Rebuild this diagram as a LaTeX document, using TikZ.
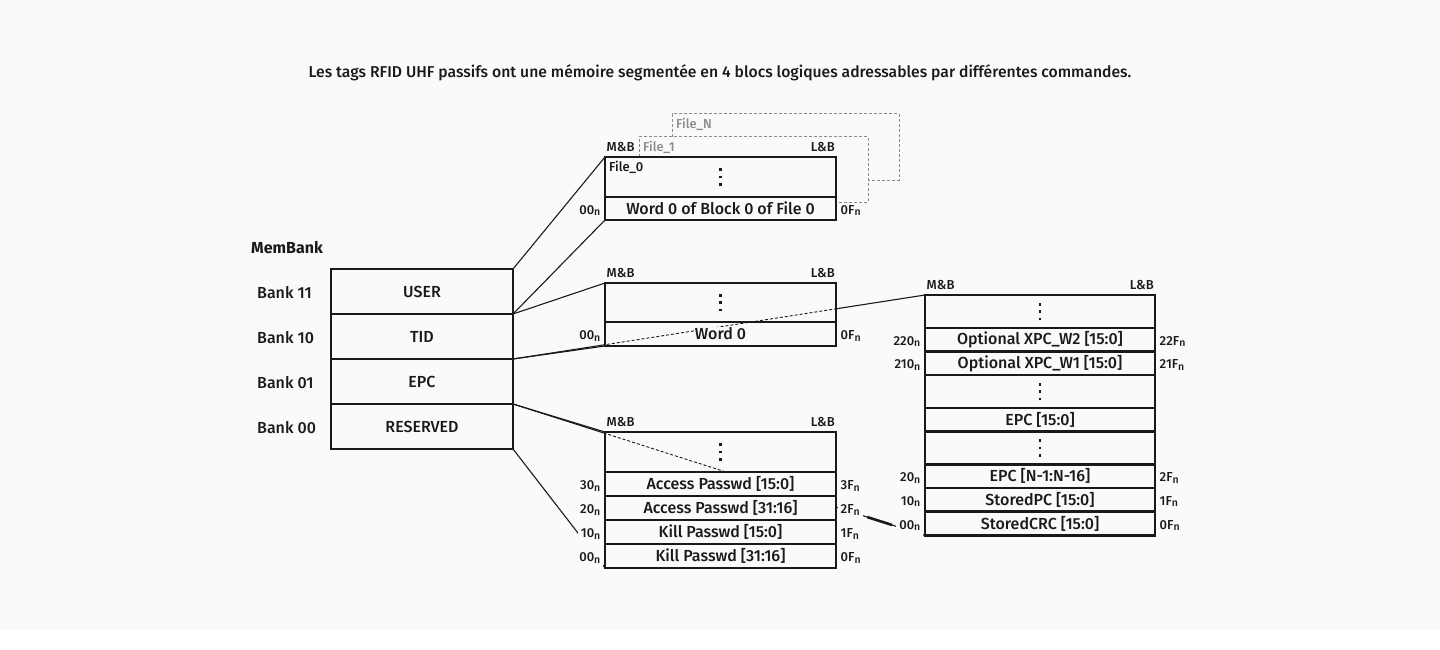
\documentclass[tikz,border=0pt]{standalone}
\usepackage{fontspec}
\setmainfont{Fira Sans}[UprightFont={* Medium},BoldFont={* Bold}]
\usetikzlibrary{positioning,calc}
\definecolor{bg}{HTML}{F9FBFA}
\definecolor{ink}{HTML}{1A1A1A}
\definecolor{filegray}{HTML}{8C8C8C}
\newcommand\nsub{\raisebox{-1.5pt}{\fontsize{10.5}{10.5}\selectfont n}}
\newcommand\cellfont{\fontsize{16}{18}\selectfont}
\newcommand\smallfont{\fontsize{13}{15}\selectfont}
\newcommand\vdotsbig{\vbox{\offinterlineskip\hbox{\rule{2.8pt}{2.8pt}}\kern4.6pt\hbox{\rule{2.8pt}{2.8pt}}\kern4.6pt\hbox{\rule{2.8pt}{2.8pt}}}}
\pgfdeclarelayer{canvas}
\pgfdeclarelayer{wires}
\pgfsetlayers{canvas,wires,main}

\begin{document}
\begin{tikzpicture}[x=1pt,y=-1pt,
	cell/.style={draw=ink,line width=2.8pt,fill=bg,text=ink,inner sep=0pt,outer sep=0pt,minimum width=231pt,font=\cellfont},
	bankcell/.style={cell,minimum width=182pt,minimum height=45pt},
	epccell/.style={cell,minimum width=230pt},
	conn/.style={draw=ink,line width=1.1pt},
	hidden/.style={draw=ink,line width=0.9pt,dash pattern=on 3pt off 2pt},
	filebox/.style={draw=filegray,line width=1pt,dash pattern=on 3pt off 2pt,fill=bg,anchor=north west,inner sep=0pt,outer sep=0pt},
	filelbl/.style={text=filegray,font=\smallfont,anchor=north west,inner sep=4pt},
	addr/.style={text=ink,font=\smallfont,inner xsep=3pt,inner ysep=1pt,yshift=-2pt},
	mask/.style={fill=bg,minimum height=25pt},
	msb/.style={text=ink,font=\smallfont,inner sep=0pt,anchor=south west,xshift=1.5pt,yshift=5pt},
	lsb/.style={text=ink,font=\smallfont,inner sep=0pt,anchor=south east,xshift=-1pt,yshift=5pt},
	banklbl/.style={text=ink,font=\cellfont,anchor=west,inner sep=0pt}]

	\begin{pgfonlayer}{canvas}
		\fill[white] (0,0) rectangle (1440,650);
		\fill[bg] (0,0) rectangle (1440,630);
	\end{pgfonlayer}
	\useasboundingbox (0,0) rectangle (1440,650);

	\node[text=ink,font=\fontsize{15.7}{18}\selectfont] (title) at (720,73) {Les tags RFID UHF passifs ont une mémoire segmentée en 4 blocs logiques adressables par différentes commandes.};

	\node[banklbl,font=\cellfont\bfseries] (membank) at (251,248) {MemBank};
	\node[bankcell] (user) at (422,291.5) {USER};
	\node[bankcell,below=0pt of user] (tid) {TID};
	\node[bankcell,below=0pt of tid] (epc) {EPC};
	\node[bankcell,below=0pt of epc] (res) {RESERVED};
	\node[banklbl] (b11) at (257,292.5) {Bank 11};
	\node[banklbl] (b10) at (257,337.5) {Bank 10};
	\node[banklbl] (b01) at (257,382.5) {Bank 01};
	\node[banklbl] (b00) at (257,427.5) {Bank 00};

	\node[filebox,minimum width=227pt,minimum height=66pt] (fileN) at (672,114) {};
	\node[filelbl] at (fileN.north west) {File\_N};
	\node[filebox,minimum width=229pt,minimum height=65pt] (file1) at (639,137) {};
	\node[filelbl] at (file1.north west) {File\_1};

	\node[cell,minimum height=40pt] (udots) at (720.5,177) {\vdotsbig};
	\node[cell,minimum height=23pt,below=0pt of udots] (uword) {Word 0 of Block 0 of File 0};
	\node[text=ink,font=\smallfont,anchor=north west,inner sep=4pt] (file0) at (udots.north west) {File\_0};
	\node[msb] at (udots.north west) {M\&B};
	\node[lsb] at (udots.north east) {L\&B};
	\node[addr,left=1.5pt of uword] {00\nsub};
	\node[addr,right=1.5pt of uword] {0F\nsub};

	\node[cell,minimum height=39pt] (tdots) at (720.5,302.5) {\vdotsbig};
	\node[cell,minimum height=24pt,below=0pt of tdots] (tword) {};
	\node[msb] at (tdots.north west) {M\&B};
	\node[lsb] at (tdots.north east) {L\&B};
	\node[addr,left=1.5pt of tword] {00\nsub};
	\node[addr,right=1.5pt of tword] {0F\nsub};

	\node[cell,minimum height=40pt] (rdots) at (720.5,452) {\vdotsbig};
	\node[cell,minimum height=24pt,below=0pt of rdots] (ra1) {Access Passwd [15:0]};
	\node[cell,minimum height=24pt,below=0pt of ra1] (ra2) {Access Passwd [31:16]};
	\node[cell,minimum height=24pt,below=0pt of ra2] (rk1) {Kill Passwd [15:0]};
	\node[cell,minimum height=24pt,below=0pt of rk1] (rk2) {Kill Passwd [31:16]};
	\node[msb] at (rdots.north west) {M\&B};
	\node[lsb] at (rdots.north east) {L\&B};

	\node[epccell,minimum height=33pt] (edots1) at (1040,311.5) {\vdotsbig};
	\node[epccell,minimum height=23.5pt,below=0pt of edots1] (ex2) {Optional XPC\_W2 [15:0]};
	\node[epccell,minimum height=23.5pt,below=0pt of ex2] (ex1) {Optional XPC\_W1 [15:0]};
	\node[epccell,minimum height=33pt,below=0pt of ex1] (edots2) {\vdotsbig};
	\node[epccell,minimum height=23.5pt,below=0pt of edots2] (eepc) {EPC [15:0]};
	\node[epccell,minimum height=33pt,below=0pt of eepc] (edots3) {\vdotsbig};
	\node[epccell,minimum height=23.5pt,below=0pt of edots3] (eepcn) {EPC [N-1:N-16]};
	\node[epccell,minimum height=23.5pt,below=0pt of eepcn] (espc) {StoredPC [15:0]};
	\node[epccell,minimum height=24pt,below=0pt of espc] (ecrc) {StoredCRC [15:0]};
	\node[msb] at (edots1.north west) {M\&B};
	\node[lsb] at (edots1.north east) {L\&B};

	\begin{pgfonlayer}{wires}
		\draw[conn] (user.north east) -- (udots.north west);
		\draw[conn] (user.south east) -- (uword.south west);
		\draw[conn] (tid.north east) -- (tdots.north west);
		\draw[conn] (tid.south east) -- (tword.south west);
		\draw[conn] (epc.north east) -- (edots1.north west);
		\draw[conn] (epc.south east) -- (ecrc.south west);
		\draw[conn] (res.north east) -- (rdots.north west);
		\draw[conn] (res.south east) -- (rk2.south west);
		\draw[draw=ink,line width=2.6pt] ($(epc.south east)!0.86!(ecrc.south west)$) -- ($(epc.south east)!0.92!(ecrc.south west)$);
	\end{pgfonlayer}

	\begin{scope}
		\clip (tdots.north west) rectangle (tword.south east);
		\draw[hidden] (epc.north east) -- (edots1.north west);
	\end{scope}
	\begin{scope}
		\clip (rdots.north west) rectangle (rdots.south east);
		\draw[hidden] (epc.south east) -- (ecrc.south west);
	\end{scope}
	\node[fill=bg,text=ink,font=\cellfont,inner sep=1pt] (word0) at (tword) {Word 0};

	\node[addr,mask,left=1.5pt of ra1] {30\nsub};
	\node[addr,mask,left=1.5pt of ra2] {20\nsub};
	\node[addr,mask,left=1.5pt of rk1] {10\nsub};
	\node[addr,mask,left=1.5pt of rk2] {00\nsub};
	\node[addr,mask,right=1.5pt of ra1] {3F\nsub};
	\node[addr,mask,right=1.5pt of ra2] {2F\nsub};
	\node[addr,mask,right=1.5pt of rk1] {1F\nsub};
	\node[addr,mask,right=1.5pt of rk2] {0F\nsub};

	\node[addr,mask,left=1.5pt of ex2] {220\nsub};
	\node[addr,mask,left=1.5pt of ex1] {210\nsub};
	\node[addr,mask,left=1.5pt of eepcn] {20\nsub};
	\node[addr,mask,left=1.5pt of espc] {10\nsub};
	\node[addr,mask,left=1.5pt of ecrc] {00\nsub};
	\node[addr,mask,right=1.5pt of ex2] {22F\nsub};
	\node[addr,mask,right=1.5pt of ex1] {21F\nsub};
	\node[addr,mask,right=1.5pt of eepcn] {2F\nsub};
	\node[addr,mask,right=1.5pt of espc] {1F\nsub};
	\node[addr,mask,right=1.5pt of ecrc] {0F\nsub};
\end{tikzpicture}
\end{document}
